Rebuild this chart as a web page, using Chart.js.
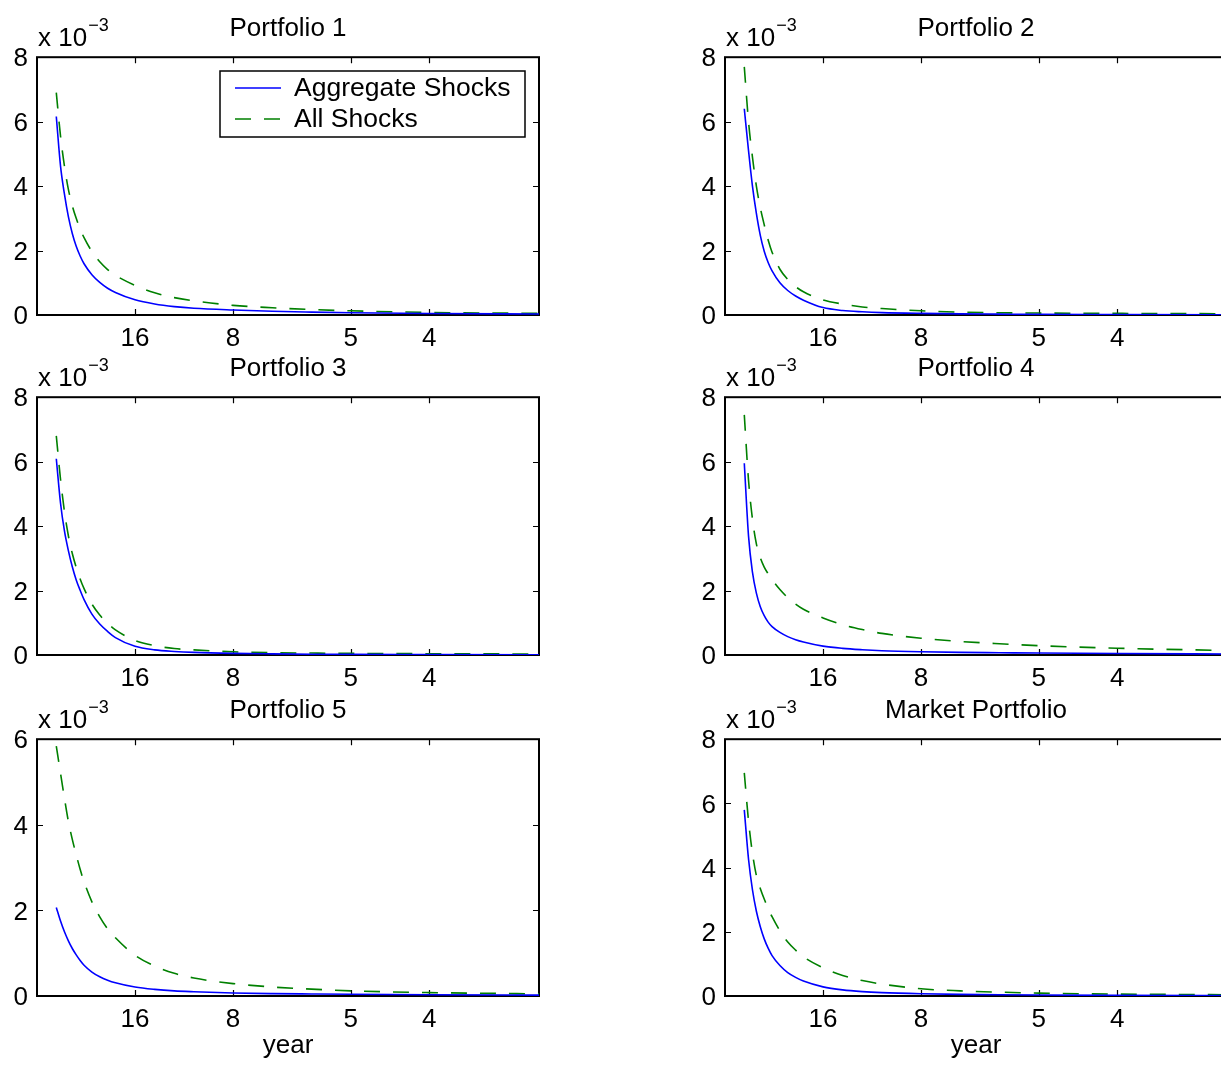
<!DOCTYPE html>
<html>
<head>
<meta charset="utf-8">
<script src="https://cdn.jsdelivr.net/npm/chart.js@4.4.1/dist/chart.umd.min.js"></script>
<style>
  html, body { margin: 0; padding: 0; background: #fff; width: 1221px; height: 1065px; overflow: hidden; }
  canvas { position: absolute; }
</style>
</head>
<body>
<canvas id="p1"></canvas>
<canvas id="p2"></canvas>
<canvas id="p3"></canvas>
<canvas id="p4"></canvas>
<canvas id="p5"></canvas>
<canvas id="p6"></canvas>
<script>
// frequency grid (cycles per year) and the period ticks shown on the x axis
const freq = [0.0123, 0.015, 0.0175, 0.02, 0.0225, 0.025, 0.0275, 0.03, 0.035, 0.04, 0.045, 0.05,
              0.0625, 0.075, 0.0875, 0.1, 0.125, 0.15, 0.175, 0.2, 0.25, 0.32];
const xTickVals = [1 / 16, 1 / 8, 1 / 5, 1 / 4];
const xTickLabels = ['16', '8', '5', '4'];
const seriesNames = ['Aggregate Shocks', 'All Shocks'];
const panelTitles = ['Portfolio 1', 'Portfolio 2', 'Portfolio 3', 'Portfolio 4', 'Portfolio 5', 'Market Portfolio'];
const yMax = [8, 8, 8, 8, 6, 8];

// spectra, in units of 10^-3
const p1Agg = [6.16, 4.62, 3.75, 3.05, 2.53, 2.13, 1.83, 1.59, 1.25, 1.01, 0.83, 0.70, 0.47, 0.34, 0.26, 0.21, 0.155, 0.115, 0.09, 0.07, 0.045, 0.03];
const p1All = [6.9, 5.55, 4.62, 3.9, 3.39, 3.0, 2.67, 2.4, 1.97, 1.65, 1.41, 1.23, 0.92, 0.69, 0.54, 0.44, 0.3, 0.225, 0.17, 0.13, 0.08, 0.05];
const p2Agg = [6.4, 5.1, 4.0, 3.15, 2.47, 1.98, 1.63, 1.37, 1.0, 0.76, 0.59, 0.46, 0.23, 0.14, 0.1, 0.075, 0.05, 0.035, 0.027, 0.02, 0.015, 0.01];
const p2All = [7.7, 6.0, 4.9, 4.0, 3.33, 2.8, 2.33, 1.95, 1.42, 1.1, 0.88, 0.72, 0.47, 0.34, 0.25, 0.2, 0.13, 0.09, 0.07, 0.06, 0.05, 0.04];
const p3Agg = [6.09, 4.71, 3.85, 3.24, 2.74, 2.33, 2.01, 1.72, 1.27, 0.96, 0.73, 0.54, 0.27, 0.16, 0.11, 0.08, 0.05, 0.035, 0.025, 0.02, 0.015, 0.01];
const p3All = [6.8, 5.45, 4.45, 3.7, 3.15, 2.72, 2.36, 2.06, 1.58, 1.24, 0.98, 0.78, 0.45, 0.29, 0.2, 0.16, 0.1, 0.07, 0.06, 0.05, 0.04, 0.03];
const p4Agg = [5.95, 3.69, 2.57, 1.92, 1.5, 1.22, 1.02, 0.88, 0.7, 0.57, 0.475, 0.405, 0.275, 0.205, 0.163, 0.133, 0.1, 0.08, 0.07, 0.06, 0.045, 0.03];
const p4All = [7.45, 5.42, 4.22, 3.45, 3.02, 2.73, 2.52, 2.34, 2.03, 1.78, 1.58, 1.42, 1.15, 0.94, 0.79, 0.67, 0.52, 0.42, 0.35, 0.29, 0.21, 0.14];
const p5Agg = [2.07, 1.75, 1.5, 1.29, 1.11, 0.96, 0.83, 0.72, 0.56, 0.45, 0.37, 0.31, 0.21, 0.155, 0.12, 0.1, 0.07, 0.055, 0.047, 0.04, 0.03, 0.02];
const p5All = [5.84, 5.2, 4.62, 4.08, 3.66, 3.3, 2.96, 2.67, 2.2, 1.85, 1.57, 1.36, 0.95, 0.7, 0.53, 0.42, 0.29, 0.21, 0.16, 0.12, 0.08, 0.05];
const mktAgg = [5.8, 4.26, 3.31, 2.64, 2.16, 1.78, 1.49, 1.26, 0.95, 0.73, 0.58, 0.465, 0.285, 0.19, 0.137, 0.105, 0.07, 0.05, 0.038, 0.03, 0.02, 0.015];
const mktAll = [6.95, 5.45, 4.45, 3.75, 3.35, 3.02, 2.73, 2.47, 2.03, 1.68, 1.43, 1.22, 0.88, 0.64, 0.48, 0.37, 0.225, 0.16, 0.12, 0.09, 0.06, 0.04];

const aggSeries = [p1Agg, p2Agg, p3Agg, p4Agg, p5Agg, mktAgg];
const allSeries = [p1All, p2All, p3All, p4All, p5All, mktAll];

const FONT = "'Liberation Sans', Arial, Helvetica, sans-serif";
const blue = '#0000ff';
const green = '#008000';

Chart.defaults.font.family = FONT;
Chart.defaults.font.size = 26;
Chart.defaults.color = '#000';

// box, inward ticks, "x 10^-3" and the boxed legend (MATLAB look)
const matlabAxes = {
  id: 'matlabAxes',
  beforeDatasetsDraw(chart) {
    const { ctx, chartArea: a, scales: { x, y } } = chart;
    ctx.save();
    ctx.strokeStyle = '#000';
    ctx.lineWidth = 1.2;
    const tl = 6;
    ctx.beginPath();
    xTickVals.forEach(v => {
      const px = Math.round(x.getPixelForValue(v)) + 0.5;
      ctx.moveTo(px, a.bottom); ctx.lineTo(px, a.bottom - tl);
      ctx.moveTo(px, a.top); ctx.lineTo(px, a.top + tl);
    });
    y.ticks.forEach(t => {
      const py = Math.round(y.getPixelForValue(t.value)) + 0.5;
      ctx.moveTo(a.left, py); ctx.lineTo(a.left + tl, py);
      ctx.moveTo(a.right, py); ctx.lineTo(a.right - tl, py);
    });
    ctx.stroke();
    ctx.lineWidth = 2;
    ctx.strokeRect(a.left, a.top, a.right - a.left, a.bottom - a.top);

    // exponent label
    ctx.fillStyle = '#000';
    ctx.textAlign = 'left';
    ctx.textBaseline = 'alphabetic';
    ctx.font = '26px ' + FONT;
    const base = 'x 10';
    ctx.fillText(base, a.left + 1, a.top - 11);
    const w = ctx.measureText(base).width;
    ctx.font = '18px ' + FONT;
    ctx.fillText('\u22123', a.left + 1 + w + 1, a.top - 26);
    ctx.restore();
  },
  afterDatasetsDraw(chart, args, opts) {
    if (!opts.legend) return;
    const { ctx } = chart;
    const box = opts.legend;
    ctx.save();
    ctx.fillStyle = '#fff';
    ctx.fillRect(box.x, box.y, box.w, box.h);
    ctx.strokeStyle = '#000';
    ctx.lineWidth = 1.5;
    ctx.strokeRect(box.x, box.y, box.w, box.h);
    chart.data.datasets.forEach((ds, i) => {
      const ly = box.y + 17 + i * 31;
      ctx.strokeStyle = ds.borderColor;
      ctx.lineWidth = ds.borderWidth;
      ctx.setLineDash(ds.borderDash || []);
      ctx.beginPath();
      ctx.moveTo(box.x + 15, ly);
      ctx.lineTo(box.x + 61, ly);
      ctx.stroke();
      ctx.setLineDash([]);
      ctx.fillStyle = '#000';
      ctx.font = '26.5px ' + FONT;
      ctx.textAlign = 'left';
      ctx.textBaseline = 'middle';
      ctx.fillText(ds.label, box.x + 74, ly + 1);
    });
    ctx.restore();
  }
};

const rowTops = [0, 340, 682];
const colLefts = [0, 688];

function makePanel(i) {
  const row = Math.floor(i / 2);
  const col = i % 2;
  const bottomRow = row === 2;
  const canvas = document.getElementById('p' + (i + 1));
  const height = bottomRow ? 383 : 360;
  const plotBottom = bottomRow ? 314 : 315;
  canvas.width = 560;
  canvas.height = height;
  canvas.style.left = colLefts[col] + 'px';
  canvas.style.top = rowTops[row] + 'px';

  const pts = arr => freq.map((f, k) => ({ x: f, y: arr[k] }));

  new Chart(canvas, {
    type: 'line',
    data: {
      datasets: [
        {
          label: seriesNames[0],
          data: pts(aggSeries[i]),
          borderColor: blue,
          borderWidth: 1.6,
          pointRadius: 0,
          cubicInterpolationMode: 'monotone',
          fill: false
        },
        {
          label: seriesNames[1],
          data: pts(allSeries[i]),
          borderColor: green,
          borderWidth: 1.6,
          borderDash: [16, 13],
          pointRadius: 0,
          cubicInterpolationMode: 'monotone',
          fill: false
        }
      ]
    },
    options: {
      responsive: false,
      animation: false,
      events: [],
      layout: { padding: { left: 0, right: 21, top: 0, bottom: 0 } },
      plugins: {
        legend: { display: false },
        tooltip: { enabled: false },
        title: {
          display: true,
          text: panelTitles[i],
          fullSize: false,
          font: { size: 26, weight: 'normal' },
          padding: { top: 13, bottom: 13 }
        },
        matlabAxes: {
          legend: i === 0 ? { x: 220, y: 71, w: 305, h: 66 } : null
        }
      },
      scales: {
        x: {
          type: 'linear',
          min: 0,
          max: 0.32,
          grid: { display: false, drawTicks: false },
          border: { display: false },
          afterBuildTicks: s => { s.ticks = xTickVals.map(v => ({ value: v })); },
          afterFit: s => { s.height = height - plotBottom; },
          ticks: {
            padding: 8,
            maxRotation: 0,
            autoSkip: false,
            callback: (v, idx) => xTickLabels[idx]
          },
          title: {
            display: bottomRow,
            text: 'year',
            font: { size: 26 },
            padding: { top: 0, bottom: 4 }
          }
        },
        y: {
          min: 0,
          max: yMax[i],
          grid: { display: false, drawTicks: false },
          border: { display: false },
          afterFit: s => { s.width = 37; },
          ticks: { stepSize: 2, padding: 9, labelOffset: 2 }
        }
      }
    },
    plugins: [matlabAxes]
  });
}

for (let i = 0; i < 6; i++) makePanel(i);
</script>
</body>
</html>
